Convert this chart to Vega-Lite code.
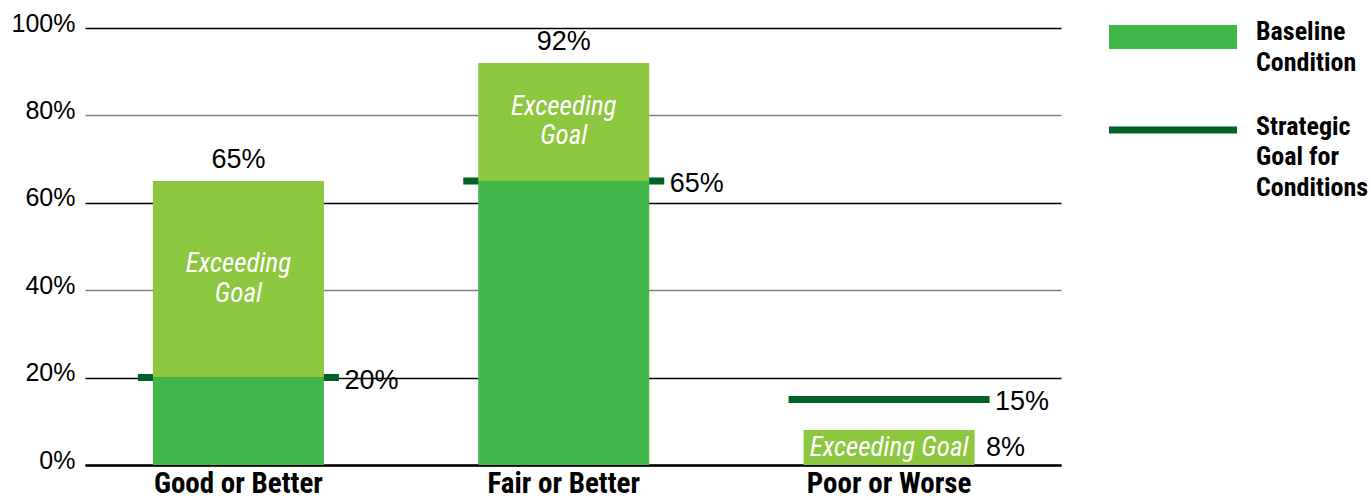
{
  "$schema": "https://vega.github.io/schema/vega-lite/v6.json",
  "width": 976,
  "height": 437,
  "autosize": {"type": "none"},
  "padding": {"left": 85, "top": 28, "right": 310, "bottom": 35},
  "background": "white",
  "config": {
    "view": {"stroke": null},
    "style": {"guide-label": {"lineHeight": 30.5}}
  },
  "datasets": {
    "segments": [
      {"category": "Good or Better", "segment": "Baseline Condition", "start": 0, "end": 20},
      {"category": "Good or Better", "segment": "Exceeding Goal", "start": 20, "end": 65, "note": "Exceeding\nGoal", "lines": 2},
      {"category": "Fair or Better", "segment": "Baseline Condition", "start": 0, "end": 65},
      {"category": "Fair or Better", "segment": "Exceeding Goal", "start": 65, "end": 92, "note": "Exceeding\nGoal", "lines": 2},
      {"category": "Poor or Worse", "segment": "Exceeding Goal", "start": 0, "end": 8, "note": "Exceeding Goal", "lines": 1}
    ],
    "goals": [
      {"category": "Good or Better", "goal": 20, "series": "Strategic Goal for Conditions", "label": "20%"},
      {"category": "Fair or Better", "goal": 65, "series": "Strategic Goal for Conditions", "label": "65%"},
      {"category": "Poor or Worse", "goal": 15, "series": "Strategic Goal for Conditions", "label": "15%"}
    ],
    "totals": [
      {"category": "Good or Better", "total": 65, "label": "65%"},
      {"category": "Fair or Better", "total": 92, "label": "92%"}
    ]
  },
  "encoding": {
    "x": {
      "field": "category",
      "type": "nominal",
      "sort": ["Good or Better", "Fair or Better", "Poor or Worse"],
      "scale": {"type": "band", "paddingInner": 0.4744, "paddingOuter": 0.2372, "align": 0.44},
      "axis": {
        "title": null,
        "domain": true,
        "domainColor": "#000000",
        "domainWidth": 2.5,
        "ticks": false,
        "labelAngle": 0,
        "labelFont": "'Roboto Condensed', Roboto, sans-serif",
        "labelFontWeight": "bold",
        "labelFontSize": 29,
        "labelColor": "#000000",
        "labelPadding": 4,
        "labelLimit": 400
      }
    },
    "y": {
      "type": "quantitative",
      "scale": {"domain": [0, 100], "nice": false},
      "axis": {
        "title": null,
        "values": [0, 20, 40, 60, 80, 100],
        "labelExpr": "datum.value + '%'",
        "grid": true,
        "gridColor": {"condition": {"test": "datum.value == 80 || datum.value == 40", "value": "#808080"}, "value": "#000000"},
        "gridWidth": 1.3,
        "domain": false,
        "ticks": false,
        "labelPadding": 10,
        "labelFont": "Liberation Sans",
        "labelFontSize": 25,
        "labelColor": "#000000",
        "labelOffset": -5
      }
    }
  },
  "layer": [
    {
      "data": {"name": "goals"},
      "mark": {"type": "tick", "size": 201, "thickness": 7, "opacity": 1},
      "encoding": {
        "y": {"field": "goal"},
        "fill": {
          "field": "series",
          "type": "nominal",
          "scale": {"domain": ["Strategic Goal for Conditions"], "range": ["#006129"]},
          "legend": {
            "title": null,
            "orient": "none",
            "legendX": 1024,
            "legendY": 42.5,
            "padding": 0,
            "symbolType": "M-1,-0.125H1V-0.016H-1Z",
            "symbolSize": 16384,
            "symbolStrokeWidth": 0,
            "symbolOpacity": 1,
            "labelExpr": "['Strategic', 'Goal for', 'Conditions']",
            "labelFont": "'Roboto Condensed', Roboto, sans-serif",
            "labelFontWeight": "bold",
            "labelFontSize": 26,
            "labelColor": "#000000",
            "labelBaseline": "alphabetic",
            "labelOffset": 19,
            "labelLimit": 300
          }
        }
      }
    },
    {
      "data": {"name": "segments"},
      "mark": {"type": "bar", "opacity": 1},
      "encoding": {
        "y": {"field": "start"},
        "y2": {"field": "end"},
        "color": {
          "field": "segment",
          "type": "nominal",
          "scale": {"domain": ["Baseline Condition", "Exceeding Goal"], "range": ["#41B649", "#8DC63F"]},
          "legend": {
            "title": null,
            "orient": "none",
            "legendX": 1024,
            "legendY": -52,
            "padding": 0,
            "values": ["Baseline Condition"],
            "symbolType": "M-1,-0.234H1V0.141H-1Z",
            "symbolSize": 16384,
            "symbolStrokeWidth": 0,
            "symbolOpacity": 1,
            "labelExpr": "['Baseline', 'Condition']",
            "labelFont": "'Roboto Condensed', Roboto, sans-serif",
            "labelFontWeight": "bold",
            "labelFontSize": 26,
            "labelColor": "#000000",
            "labelBaseline": "alphabetic",
            "labelOffset": 19,
            "labelLimit": 300
          }
        }
      }
    },
    {
      "data": {"name": "segments"},
      "transform": [
        {"filter": "datum.lines == 2"},
        {"calculate": "(datum.start + datum.end) / 2", "as": "mid"}
      ],
      "mark": {
        "type": "text",
        "font": "'Roboto Condensed', Roboto, sans-serif",
        "fontStyle": "italic",
        "fontSize": 27,
        "color": "#FFFFFF",
        "lineBreak": "\n",
        "lineHeight": 29.5,
        "align": "center",
        "baseline": "middle",
        "dy": -15
      },
      "encoding": {
        "y": {"field": "mid"},
        "text": {"field": "note", "type": "nominal"}
      }
    },
    {
      "data": {"name": "segments"},
      "transform": [
        {"filter": "datum.lines == 1"},
        {"calculate": "(datum.start + datum.end) / 2", "as": "mid"}
      ],
      "mark": {
        "type": "text",
        "font": "'Roboto Condensed', Roboto, sans-serif",
        "fontStyle": "italic",
        "fontSize": 27,
        "color": "#FFFFFF",
        "align": "center",
        "baseline": "middle"
      },
      "encoding": {
        "y": {"field": "mid"},
        "text": {"field": "note", "type": "nominal"}
      }
    },
    {
      "data": {"name": "totals"},
      "mark": {
        "type": "text",
        "font": "Liberation Sans",
        "fontSize": 27,
        "color": "#000000",
        "align": "center",
        "baseline": "bottom",
        "dy": -7
      },
      "encoding": {
        "y": {"field": "total"},
        "text": {"field": "label", "type": "nominal"}
      }
    },
    {
      "data": {"name": "goals"},
      "mark": {
        "type": "text",
        "font": "Liberation Sans",
        "fontSize": 27,
        "color": "#000000",
        "align": "left",
        "baseline": "middle",
        "dx": 106,
        "dy": 3
      },
      "encoding": {
        "y": {"field": "goal"},
        "text": {"field": "label", "type": "nominal"}
      }
    },
    {
      "data": {"name": "segments"},
      "transform": [
        {"filter": "datum.category == 'Poor or Worse'"},
        {"calculate": "(datum.start + datum.end) / 2", "as": "mid"},
        {"calculate": "datum.end + '%'", "as": "endLabel"}
      ],
      "mark": {
        "type": "text",
        "font": "Liberation Sans",
        "fontSize": 27,
        "color": "#000000",
        "align": "left",
        "baseline": "middle",
        "dx": 97
      },
      "encoding": {
        "y": {"field": "mid"},
        "text": {"field": "endLabel", "type": "nominal"}
      }
    }
  ]
}
